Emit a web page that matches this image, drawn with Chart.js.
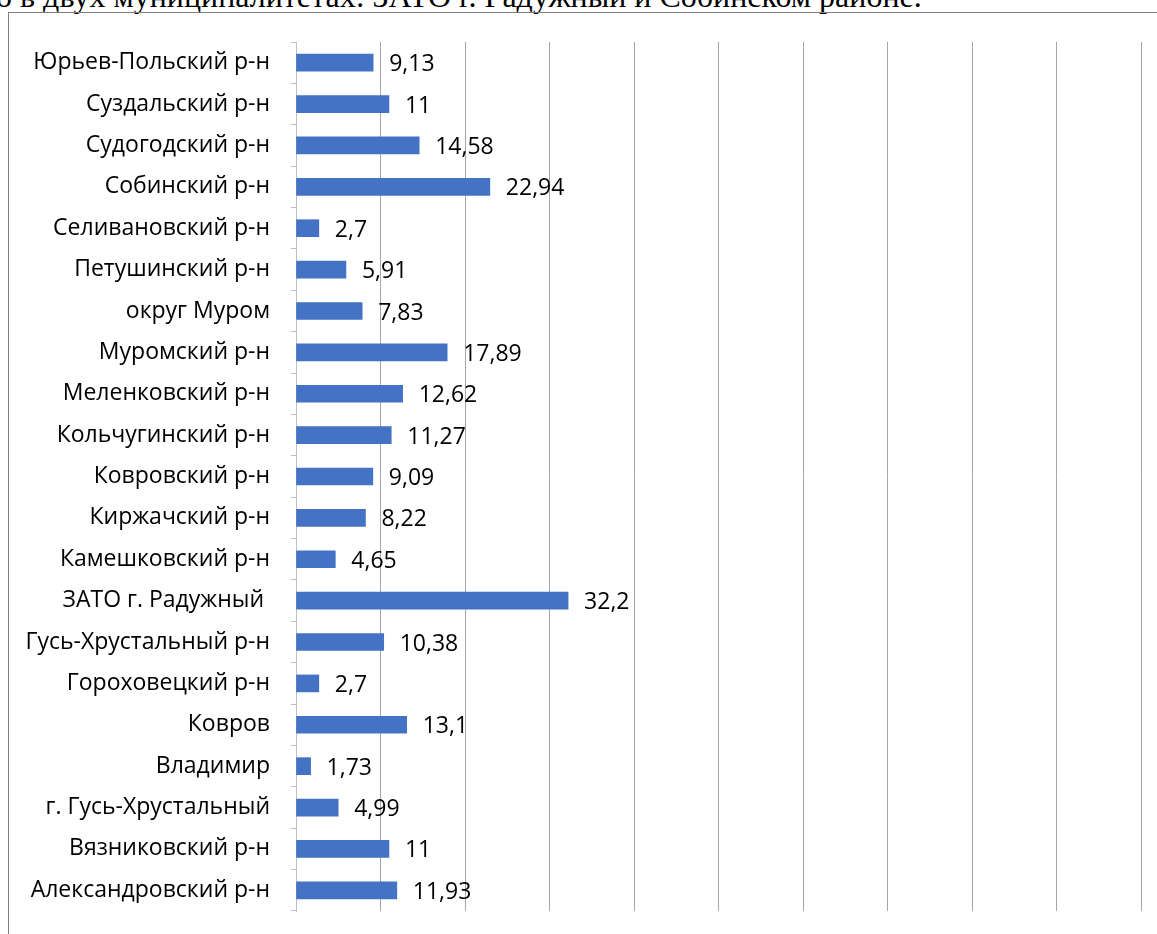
<!DOCTYPE html>
<html>
<head>
<meta charset="utf-8">
<script src="https://cdn.jsdelivr.net/npm/chart.js@4/dist/chart.umd.min.js"></script>
<style>
  body { margin: 0; background: #fff; width: 1157px; height: 934px; overflow: hidden; position: relative; }
  #caption { position: absolute; left: -4px; top: -20px; font: 32px "Liberation Serif", serif; line-height: 32px; white-space: nowrap; color: #000; }
  #frame { position: absolute; left: 8px; top: 12px; width: 1200px; height: 1000px; border: 1px solid #808080; }
  #chart { position: absolute; left: 0; top: 0; }
</style>
</head>
<body>
<div id="caption">о в двух муниципалитетах: ЗАТО г. Радужный и Собинском районе.</div>
<div id="frame"></div>
<canvas id="chart" width="1157" height="934"></canvas>
<script>
const districts = [
  "Юрьев-Польский р-н", "Суздальский р-н", "Судогодский р-н", "Собинский р-н",
  "Селивановский р-н", "Петушинский р-н", "округ Муром", "Муромский р-н",
  "Меленковский р-н", "Кольчугинский р-н", "Ковровский р-н", "Киржачский р-н",
  "Камешковский р-н", "ЗАТО г. Радужный ", "Гусь-Хрустальный р-н", "Гороховецкий р-н",
  "Ковров", "Владимир", "г. Гусь-Хрустальный", "Вязниковский р-н", "Александровский р-н"
]
const values = [9.13, 11, 14.58, 22.94, 2.7, 5.91, 7.83, 17.89, 12.62, 11.27, 9.09,
  8.22, 4.65, 32.2, 10.38, 2.7, 13.1, 1.73, 4.99, 11, 11.93]
const valueText = values.map(v => String(v).replace('.', ','))

const labelFont = 'Open Sans'
const labelSize = 23

// draws the numbers right of each bar
const valueLabels = {
  id: 'valueLabels',
  afterDatasetsDraw(chart) {
    let ctx = chart.ctx
    let meta = chart.getDatasetMeta(0)
    ctx.save()
    ctx.font = labelSize + 'px "' + labelFont + '"'
    ctx.fillStyle = '#000'
    ctx.textAlign = 'left'
    ctx.textBaseline = 'middle'
    meta.data.forEach((bar, i) => {
      ctx.fillText(valueText[i], bar.x + 16, bar.y + 2)
    })
    ctx.restore()
  }
}

Chart.defaults.color = '#000'

let ctx = document.getElementById('chart').getContext('2d')
let myChart = new Chart(ctx, {
  type: 'bar',
  data: {
    labels: districts,
    datasets: [{
      data: values,
      backgroundColor: '#4472C4',
      barThickness: 17,
    }]
  },
  options: {
    indexAxis: 'y',
    responsive: false,
    animation: false,
    layout: { padding: { top: 42, bottom: 23, right: 16, left: 0 } },
    plugins: {
      legend: { display: false },
      tooltip: { enabled: false },
    },
    scales: {
      x: {
        min: 0,
        max: 100,
        ticks: { display: false, stepSize: 10 },
        grid: { color: '#a6a6a6', drawTicks: false, lineWidth: 1 },
        border: { display: false },
        afterFit: s => { s.height = 0 },
        afterUpdate: s => { s.paddingBottom = 0 },
      },
      y: {
        ticks: { font: { family: labelFont, size: labelSize }, padding: 21, crossAlign: 'near', autoSkip: false },
        grid: { drawOnChartArea: false, drawTicks: true, tickLength: 5, color: '#bfbfbf', offset: true },
        border: { display: true, color: '#bfbfbf' },
        afterFit: s => { s.width = 296; s.paddingBottom = 0; s.paddingTop = 0 },
      }
    }
  },
  plugins: [valueLabels]
})
</script>
</body>
</html>
